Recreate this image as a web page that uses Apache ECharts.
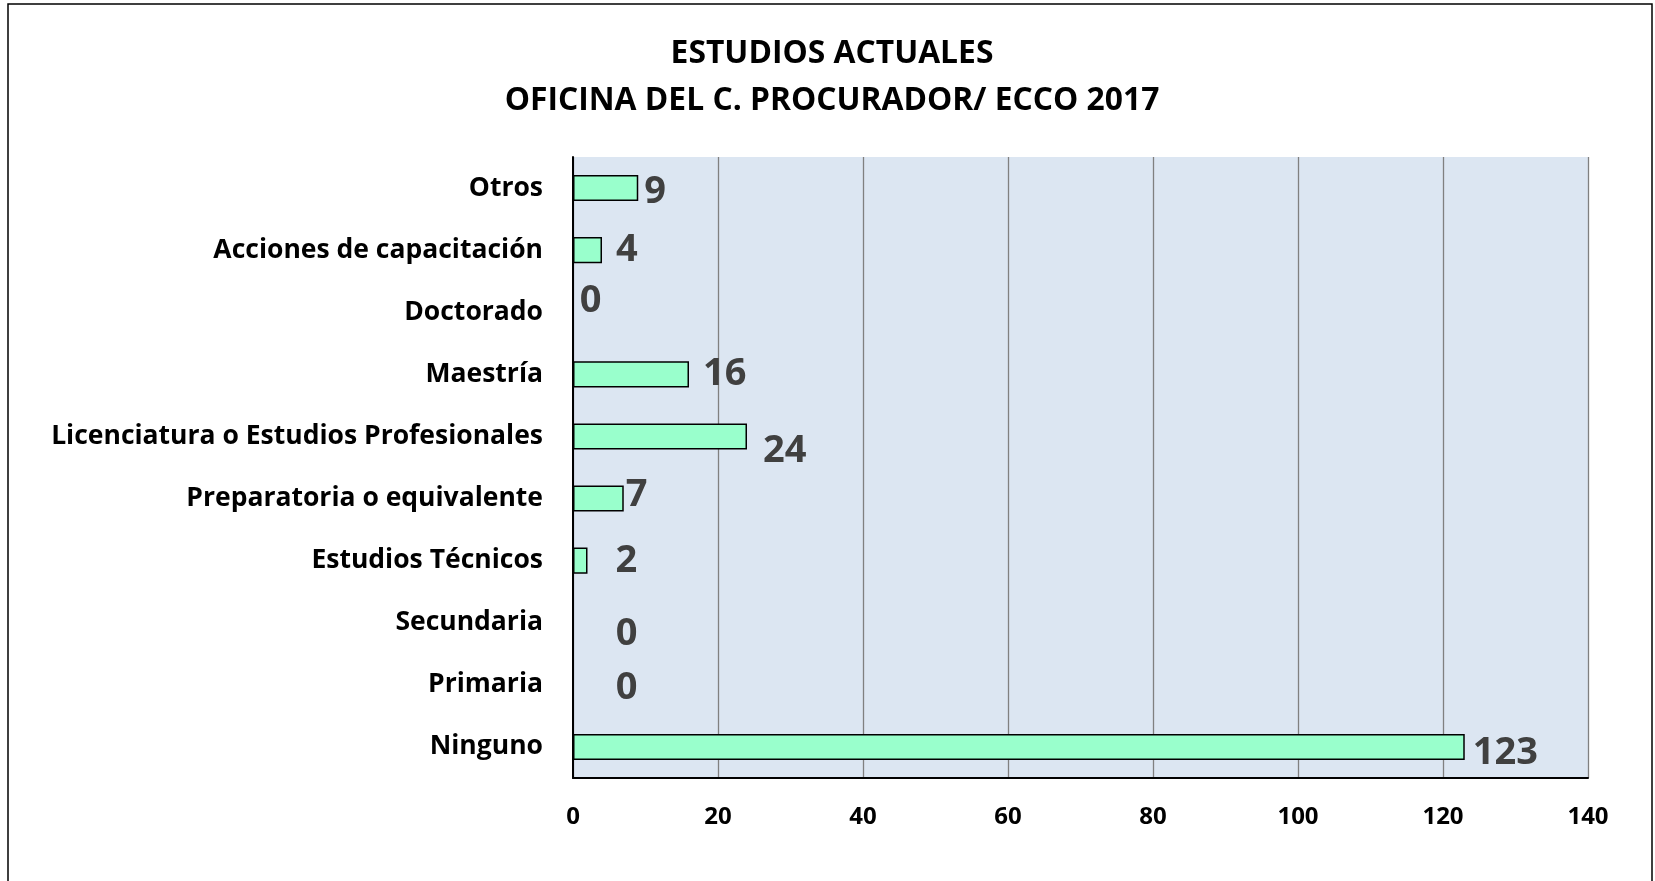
<!DOCTYPE html>
<html>
<head>
<meta charset="utf-8">
<script src="https://cdn.jsdelivr.net/npm/echarts@6/dist/echarts.min.js"></script>
<style>
  html, body { margin: 0; padding: 0; background: #ffffff; }
  #chart { width: 1655px; height: 881px; }
</style>
</head>
<body>
<div id="chart"></div>
<script>
// Categories listed bottom-to-top (category axis on y starts at the bottom)
const categories = [
  'Ninguno',
  'Primaria',
  'Secundaria',
  'Estudios Técnicos',
  'Preparatoria o equivalente',
  'Licenciatura o Estudios Profesionales',
  'Maestría',
  'Doctorado',
  'Acciones de capacitación',
  'Otros'
];
const personas = [123, 0, 0, 2, 7, 24, 16, 0, 4, 9];
const xTicks = { min: 0, max: 140, interval: 20 };
const titleLines = ['ESTUDIOS ACTUALES', 'OFICINA DEL C. PROCURADOR/ ECCO 2017'];

// Hand-placed value labels: [dx, dy] offsets from the default right-of-bar spot
const labelNudge = [
  [2, 6], [36, 3], [36, 11], [22, 1], [-4, -3],
  [10, 15], [8, 0], [0, -11], [8, 0], [0, 4]
];

const FONT = '"Open Sans", Lato, sans-serif';

const chart = echarts.init(document.getElementById('chart'), null, { renderer: 'canvas' });

chart.setOption({
  backgroundColor: '#ffffff',
  animation: false,
  title: {
    text: titleLines.join('\n'),
    left: 827,
    textAlign: 'center',
    top: 25,
    textStyle: {
      fontFamily: FONT,
      fontWeight: 'bold',
      fontSize: 31.8,
      lineHeight: 47,
      color: '#000000'
    }
  },
  graphic: [{
    type: 'rect',
    shape: { x: 8, y: 4, width: 1644, height: 900 },
    style: { fill: 'none', stroke: '#000000', lineWidth: 1.5 },
    silent: true
  }],
  grid: {
    left: 573,
    top: 157,
    right: 67,
    bottom: 103,
    show: true,
    backgroundColor: '#dce6f2',
    borderWidth: 0
  },
  xAxis: {
    type: 'value',
    min: xTicks.min,
    max: xTicks.max,
    interval: xTicks.interval,
    axisLine: { show: true, lineStyle: { color: '#000000', width: 2 } },
    axisTick: { show: false },
    splitLine: { show: true, lineStyle: { color: '#808080', width: 1.3 } },
    axisLabel: {
      margin: 27,
      fontFamily: FONT,
      fontWeight: 'bold',
      fontSize: 24,
      color: '#000000'
    }
  },
  yAxis: {
    type: 'category',
    data: categories,
    axisLine: { show: true, onZero: false, lineStyle: { color: '#000000', width: 2 } },
    axisTick: { show: false },
    splitLine: { show: false },
    axisLabel: {
      margin: 30,
      fontFamily: FONT,
      fontWeight: 'bold',
      fontSize: 26.5,
      color: '#000000'
    }
  },
  series: [{
    type: 'bar',
    data: personas.map((v, i) => ({
      value: v,
      label: { offset: labelNudge[i] }
    })),
    barCategoryGap: '58%',
    itemStyle: {
      color: '#99ffcc',
      borderColor: '#000000',
      borderWidth: 1.5
    },
    label: {
      show: true,
      position: 'right',
      distance: 6,
      fontFamily: FONT,
      fontWeight: 'bold',
      fontSize: 38,
      color: '#404040'
    }
  }]
});
</script>
</body>
</html>
